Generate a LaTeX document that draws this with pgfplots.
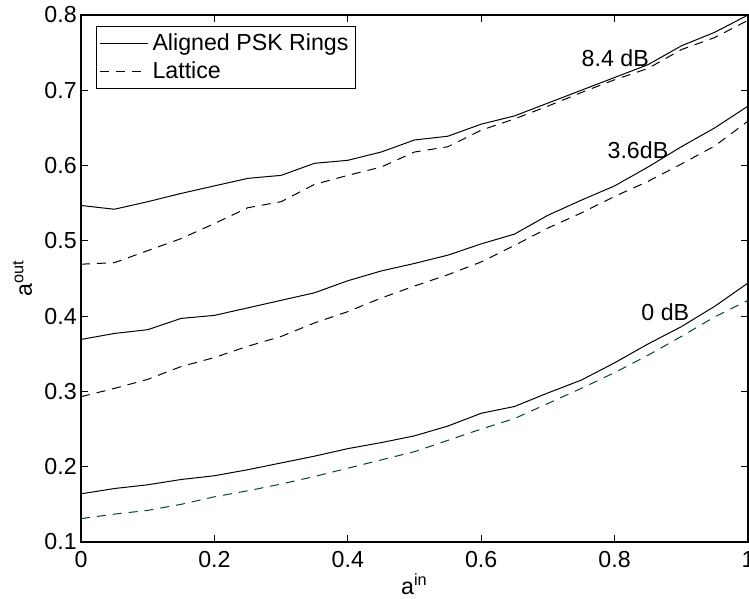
\documentclass[border=0pt]{standalone}
\usepackage{pgfplots}
\pgfplotsset{compat=1.18}
\usepackage{fontspec}
\setmainfont{Liberation Sans}
\definecolor{tealdark}{RGB}{0,64,64}
\newcommand{\fs}{\fontsize{11.6}{13.5}\selectfont}
\begin{document}
\begin{tikzpicture}
\begin{axis}[
  at={(0,0)}, anchor=south west,
  scale only axis, width=333.5pt, height=263.5pt,
  xmin=0, xmax=1, ymin=0.1, ymax=0.8,
  xtick={0,0.2,0.4,0.6,0.8,1},
  ytick={0.1,0.2,0.3,0.4,0.5,0.6,0.7,0.8},
  tick align=inside, major tick length=3.5pt,
  axis line style={line width=0.6pt},
  every tick/.style={black, line width=0.5pt},
  tick label style={font=\fs},
  /pgf/number format/assume math mode=true,
  xticklabel style={yshift=-1.3pt},
  yticklabel style={xshift=1.4pt},
  xlabel={a\textsuperscript{in}},
  ylabel={a\textsuperscript{out}},
  label style={font=\fs},
  xlabel style={at={(axis description cs:0.5,0)}, anchor=base, yshift=-26.3pt},
  ylabel style={at={(axis description cs:-0.0877,0.5)}, anchor=center},
  legend style={at={(rel axis cs:0.0225,0.979)}, anchor=north west,
    draw=black, line width=0.5pt, font=\fs,
    inner xsep=1.5pt, inner ysep=1.5pt, row sep=0.3pt},
  legend cell align=left,
  legend image code/.code={\draw[#1] (0pt,0pt) -- (24pt,0pt);},
]
% 8.4 dB
\addplot[black, line width=0.5pt] coordinates {
(0,0.547)(0.05,0.542)(0.1,0.552)(0.15,0.563)(0.2,0.573)(0.25,0.583)(0.3,0.587)(0.35,0.603)(0.4,0.607)(0.45,0.618)(0.5,0.634)(0.55,0.639)(0.6,0.655)(0.65,0.666)(0.7,0.683)(0.75,0.700)(0.8,0.717)(0.85,0.734)(0.9,0.759)(0.95,0.777)(1,0.800)};
\addlegendentry{Aligned PSK Rings}
\addplot[black, line width=0.5pt, dash pattern=on 4.5pt off 3.5pt] coordinates {
(0,0.469)(0.05,0.471)(0.1,0.487)(0.15,0.503)(0.2,0.523)(0.25,0.544)(0.3,0.552)(0.35,0.575)(0.4,0.587)(0.45,0.598)(0.5,0.618)(0.55,0.625)(0.6,0.647)(0.65,0.662)(0.7,0.679)(0.75,0.697)(0.8,0.714)(0.85,0.729)(0.9,0.754)(0.95,0.770)(1,0.793)};
\addlegendentry{Lattice}
% 3.6 dB
\addplot[black, line width=0.5pt, forget plot] coordinates {
(0,0.369)(0.05,0.377)(0.1,0.382)(0.15,0.397)(0.2,0.401)(0.25,0.411)(0.3,0.421)(0.35,0.431)(0.4,0.447)(0.45,0.460)(0.5,0.470)(0.55,0.481)(0.6,0.496)(0.65,0.509)(0.7,0.534)(0.75,0.554)(0.8,0.573)(0.85,0.598)(0.9,0.625)(0.95,0.650)(1,0.679)};
\addplot[black, line width=0.5pt, dash pattern=on 4.5pt off 3.5pt, forget plot] coordinates {
(0,0.293)(0.05,0.304)(0.1,0.316)(0.15,0.333)(0.2,0.345)(0.25,0.360)(0.3,0.373)(0.35,0.391)(0.4,0.406)(0.45,0.424)(0.5,0.440)(0.55,0.455)(0.6,0.472)(0.65,0.494)(0.7,0.517)(0.75,0.537)(0.8,0.559)(0.85,0.579)(0.9,0.602)(0.95,0.626)(1,0.659)};
% 0 dB
\addplot[black, line width=0.5pt, forget plot] coordinates {
(0,0.164)(0.05,0.171)(0.1,0.176)(0.15,0.183)(0.2,0.188)(0.25,0.196)(0.3,0.205)(0.35,0.214)(0.4,0.224)(0.45,0.232)(0.5,0.241)(0.55,0.254)(0.6,0.271)(0.65,0.280)(0.7,0.298)(0.75,0.315)(0.8,0.338)(0.85,0.363)(0.9,0.386)(0.95,0.413)(1,0.444)};
\addplot[tealdark, line width=0.5pt, dash pattern=on 4.5pt off 3.5pt, forget plot] coordinates {
(0,0.131)(0.05,0.137)(0.1,0.142)(0.15,0.150)(0.2,0.160)(0.25,0.168)(0.3,0.177)(0.35,0.187)(0.4,0.198)(0.45,0.209)(0.5,0.220)(0.55,0.235)(0.6,0.250)(0.65,0.264)(0.7,0.284)(0.75,0.304)(0.8,0.325)(0.85,0.348)(0.9,0.373)(0.95,0.399)(1,0.421)};
\node[font=\fs] at (axis cs:0.801,0.742) {8.4 dB};
\node[font=\fs] at (axis cs:0.835,0.621) {3.6dB};
\node[font=\fs] at (axis cs:0.876,0.405) {0 dB};
\end{axis}
\pgfresetboundingbox
\path[use as bounding box] (-40.5pt,-28.5pt) rectangle (334pt,271pt);
\end{tikzpicture}
\end{document}
